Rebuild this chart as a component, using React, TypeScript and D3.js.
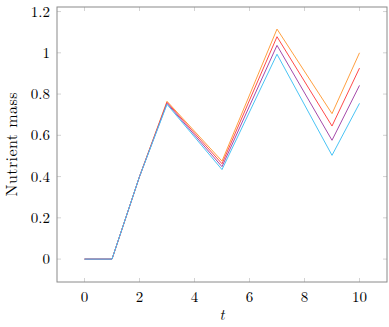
import * as d3 from "d3";
import { useEffect, useRef } from "react";

const tValues = [0, 1, 2, 3, 5, 7, 9, 10];
const orangeSeries = [0, 0, 0.4, 0.765, 0.475, 1.115, 0.705, 1.0];
const redSeries = [0, 0, 0.4, 0.76, 0.462, 1.078, 0.645, 0.926];
const purpleSeries = [0, 0, 0.4, 0.755, 0.448, 1.036, 0.576, 0.842];
const blueSeries = [0, 0, 0.4, 0.75, 0.434, 0.993, 0.503, 0.755];
const xTicks = [0, 2, 4, 6, 8, 10];
const yTicks = [0, 0.2, 0.4, 0.6, 0.8, 1, 1.2];

const seriesList = [
  { name: "orange", values: orangeSeries, color: "#ffa040" },
  { name: "red", values: redSeries, color: "#ff4a4a" },
  { name: "purple", values: purpleSeries, color: "#a54aaa" },
  { name: "blue", values: blueSeries, color: "#4ac4f5" },
];

export default function App() {
  const svgRef = useRef<SVGSVGElement>(null);
  const width = 389;
  const height = 327;
  const left = 57;
  const right = 387;
  const top = 7;
  const bottom = 282;
  const font = "'Latin Modern Roman', 'CMU Serif', 'Liberation Serif', serif";

  useEffect(() => {
    const svg = d3.select(svgRef.current);
    svg.selectAll("*").remove();

    const x = d3.scaleLinear().domain([-1, 11]).range([left, right]);
    const y = d3.scaleLinear().domain([-0.111, 1.222]).range([bottom, top]);

    // tick marks (inside, both sides)
    const tickColor = "#c8c8c8";
    const tk = 4;
    const g = svg.append("g").attr("stroke", tickColor).attr("stroke-width", 0.8);
    xTicks.forEach((t) => {
      g.append("line").attr("x1", x(t)).attr("x2", x(t)).attr("y1", bottom).attr("y2", bottom - tk);
      g.append("line").attr("x1", x(t)).attr("x2", x(t)).attr("y1", top).attr("y2", top + tk);
    });
    yTicks.forEach((v) => {
      g.append("line").attr("x1", left).attr("x2", left + tk).attr("y1", y(v)).attr("y2", y(v));
      g.append("line").attr("x1", right).attr("x2", right - tk).attr("y1", y(v)).attr("y2", y(v));
    });

    // series
    const line = d3
      .line<number>()
      .x((_, i) => x(tValues[i]))
      .y((d) => y(d));
    seriesList.forEach((s) => {
      svg
        .append("path")
        .datum(s.values)
        .attr("fill", "none")
        .attr("stroke", s.color)
        .attr("stroke-width", 1)
        .attr("stroke-linejoin", "round")
        .attr("d", line);
    });

    // frame
    svg
      .append("rect")
      .attr("x", left)
      .attr("y", top)
      .attr("width", right - left)
      .attr("height", bottom - top)
      .attr("fill", "none")
      .attr("stroke", "#8a8a8a")
      .attr("stroke-width", 1);

    // tick labels
    svg
      .selectAll(".xl")
      .data(xTicks)
      .enter()
      .append("text")
      .attr("x", (d) => x(d))
      .attr("y", 301.5)
      .attr("text-anchor", "middle")
      .attr("font-family", font)
      .attr("font-size", 15)
      .text((d) => d3.format("")(d));

    svg
      .selectAll(".yl")
      .data(yTicks)
      .enter()
      .append("text")
      .attr("x", 50)
      .attr("y", (d) => y(d) + 5)
      .attr("text-anchor", "end")
      .attr("font-family", font)
      .attr("font-size", 15)
      .text((d) => d3.format("")(d));

    // axis labels
    svg
      .append("text")
      .attr("x", (left + right) / 2)
      .attr("y", 320)
      .attr("text-anchor", "middle")
      .attr("font-family", font)
      .attr("font-style", "italic")
      .attr("font-size", 15)
      .text("t");

    svg
      .append("text")
      .attr("transform", `translate(17, ${(top + bottom) / 2}) rotate(-90)`)
      .attr("text-anchor", "middle")
      .attr("font-family", font)
      .attr("font-size", 16)
      .attr("textLength", 104)
      .text("Nutrient mass");
  }, []);

  return (
    <svg
      ref={svgRef}
      width={width}
      height={height}
      style={{ position: "absolute", left: 0, top: 0, background: "white" }}
    />
  );
}
